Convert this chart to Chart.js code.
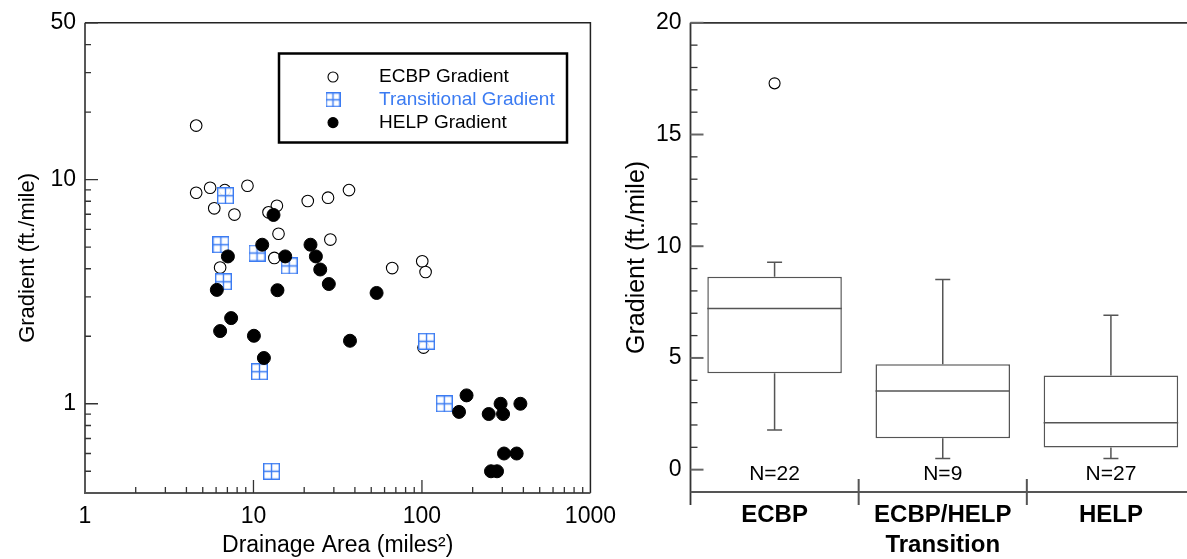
<!DOCTYPE html>
<html>
<head>
<meta charset="utf-8">
<script src="https://cdn.jsdelivr.net/npm/chart.js@4.4.1/dist/chart.umd.min.js"></script>
<style>
  html, body { margin: 0; padding: 0; background: #fff; overflow: hidden; }
  body { width: 1187px; height: 559px; position: relative; }
  #left { position: absolute; left: 0; top: 0; width: 626px; height: 559px; }
  #right { position: absolute; left: 600px; top: 0; width: 620px; height: 559px; }
</style>
</head>
<body>
<div id="left"><canvas id="scatter"></canvas></div>
<div id="right"><canvas id="box"></canvas></div>
<script>
// ---- scatter data (drainage area in miles^2, gradient in ft/mile) ----
const ecbpArea = [4.57, 4.57, 5.53, 6.76, 5.85, 7.71, 9.21, 13.77, 12.28, 14.08, 21.0, 27.7, 36.9, 28.6, 13.3, 6.34, 66.6, 100.4, 105.1, 102.2];
const ecbpGradient = [17.4, 8.73, 9.19, 8.97, 7.44, 6.98, 9.38, 7.64, 7.14, 5.73, 8.02, 8.30, 8.97, 5.40, 4.47, 4.05, 4.03, 4.32, 3.87, 1.78];

const transArea = [6.82, 6.40, 6.63, 10.5, 16.3, 10.85, 106.5, 135.7, 12.8];
const transGradient = [8.47, 5.12, 3.50, 4.70, 4.12, 1.39, 1.90, 1.00, 0.50];

const helpArea = [13.15, 11.27, 7.05, 15.43, 21.8, 23.47, 24.9, 28.0, 6.06, 13.88, 53.8, 7.37, 6.34, 10.06, 11.53, 37.4, 184, 166, 249, 293, 303, 384, 307, 365, 257, 279];
const helpGradient = [6.95, 5.12, 4.54, 4.54, 5.12, 4.54, 3.97, 3.42, 3.22, 3.21, 3.12, 2.41, 2.11, 2.01, 1.60, 1.91, 1.09, 0.92, 0.90, 1.00, 0.90, 1.00, 0.60, 0.60, 0.50, 0.50];

const areaTicks = [1, 10, 100, 1000];
const gradientTicks = [1, 10, 50];

// ---- box plot data ----
const groupLabels = [['ECBP'], ['ECBP/HELP', 'Transition'], ['HELP']];
const whiskerLow = [1.78, 0.50, 0.50];
const q1 = [4.32, 1.41, 0.99];
const median = [7.21, 3.52, 2.10];
const q3 = [8.63, 4.72, 4.21];
const whiskerHigh = [9.28, 8.51, 6.91];
const outliers = [17.29, null, null];
const counts = [22, 9, 27];
const boxTicks = [0, 5, 10, 15, 20];

const FONT = "'Liberation Sans', Arial, Helvetica, sans-serif";
const BLUE = '#3b7bf2';
Chart.defaults.font.family = FONT;
Chart.defaults.color = '#000';

function makeSquare(size, color) {
  const c = document.createElement('canvas');
  c.width = size; c.height = size;
  const g = c.getContext('2d');
  g.fillStyle = 'rgba(255,255,255,0.9)';
  g.fillRect(0, 0, size, size);
  g.strokeStyle = color;
  g.lineWidth = 1.4;
  g.strokeRect(0.7, 0.7, size - 1.4, size - 1.4);
  g.beginPath();
  g.moveTo(size / 2, 1); g.lineTo(size / 2, size - 1);
  g.moveTo(1, size / 2); g.lineTo(size - 1, size / 2);
  g.stroke();
  return c;
}
const squareMark = makeSquare(17, BLUE);
const squareLegend = makeSquare(15, BLUE);

function pts(xs, ys) { return xs.map((x, i) => ({ x: x, y: ys[i] })); }

// frame + inward ticks for the log/log plot
const logFrame = {
  id: 'logFrame',
  afterDraw(chart) {
    const { ctx, chartArea: a, scales: { x, y } } = chart;
    ctx.save();
    ctx.strokeStyle = '#222';
    ctx.lineWidth = 1.5;
    ctx.beginPath();
    ctx.moveTo(a.left, a.top); ctx.lineTo(a.right, a.top); ctx.lineTo(a.right, a.bottom);
    ctx.moveTo(a.left, a.top); ctx.lineTo(a.left, a.bottom);
    ctx.stroke();
    ctx.strokeStyle = '#555';
    ctx.lineWidth = 2;
    ctx.beginPath(); ctx.moveTo(a.left - 1, a.bottom); ctx.lineTo(a.right, a.bottom); ctx.stroke();

    ctx.strokeStyle = '#333';
    ctx.lineWidth = 1.3;
    ctx.beginPath();
    [1, 10, 100].forEach(d => {
      for (let k = 1; k <= 10; k++) {
        const v = k * d;
        if (v <= 1 || v >= 1000) continue;
        const px = x.getPixelForValue(v);
        const len = (k === 10 || k === 1) ? 13 : 6;
        ctx.moveTo(px, a.bottom); ctx.lineTo(px, a.bottom - len);
      }
    });
    [0.1, 1, 10].forEach(d => {
      for (let k = 1; k <= 10; k++) {
        const v = +(k * d).toFixed(3);
        if (v < 0.45 || v > 50) continue;
        const py = y.getPixelForValue(v);
        const len = (v === 1 || v === 10 || v === 50) ? 13 : 6;
        ctx.moveTo(a.left, py); ctx.lineTo(a.left + len, py);
      }
    });
    ctx.stroke();
    ctx.restore();
  }
};

const legendBox = {
  id: 'legendBox',
  afterDraw(chart) {
    const ctx = chart.ctx;
    ctx.save();
    ctx.lineWidth = 2.5;
    ctx.strokeStyle = '#000';
    ctx.strokeRect(279, 53.5, 288, 89);
    const colors = ['#000', BLUE, '#000'];
    chart.data.datasets.forEach((ds, i) => {
      const cy = 77 + i * 22.8;
      const cx = 333;
      if (i === 1) {
        ctx.drawImage(squareLegend, cx - 7.5, cy - 7.5);
      } else {
        ctx.beginPath();
        ctx.arc(cx, cy, 5, 0, Math.PI * 2);
        ctx.fillStyle = i === 0 ? '#fff' : '#000';
        ctx.fill();
        ctx.lineWidth = 1.1;
        ctx.strokeStyle = '#000';
        ctx.stroke();
      }
      ctx.fillStyle = colors[i];
      ctx.font = '19px ' + FONT;
      ctx.textBaseline = 'middle';
      ctx.textAlign = 'left';
      ctx.fillText(ds.label, 379, cy);
    });
    ctx.restore();
  }
};

new Chart(document.getElementById('scatter'), {
  type: 'scatter',
  data: {
    datasets: [
      { label: 'ECBP Gradient', data: pts(ecbpArea, ecbpGradient), pointStyle: 'circle',
        pointRadius: 5.8, borderColor: '#000', borderWidth: 1.1, backgroundColor: '#fff', order: 3 },
      { label: 'Transitional Gradient', data: pts(transArea, transGradient), pointStyle: squareMark,
        pointRadius: 8, order: 2 },
      { label: 'HELP Gradient', data: pts(helpArea, helpGradient), pointStyle: 'circle',
        pointRadius: 6.5, borderColor: '#000', borderWidth: 1, backgroundColor: '#000', order: 1 }
    ]
  },
  options: {
    responsive: true,
    maintainAspectRatio: false,
    animation: false,
    layout: { padding: { top: 20, right: 24, left: 0, bottom: 0 } },
    plugins: { legend: { display: false }, tooltip: { enabled: false } },
    scales: {
      x: {
        type: 'logarithmic', min: 1, max: 1000,
        afterBuildTicks: s => { s.ticks = areaTicks.map(v => ({ value: v })); },
        afterFit: s => { s.height = 66; },
        grid: { display: false, drawTicks: false },
        border: { display: false },
        ticks: { font: { size: 23 }, color: '#000', padding: 10, maxRotation: 0, autoSkip: false,
                 callback: v => String(v) },
        title: { display: true, text: 'Drainage Area (miles\u00B2)', font: { size: 23 }, color: '#000',
                 padding: { top: 0, bottom: 0 } }
      },
      y: {
        type: 'logarithmic', min: 0.4, max: 50,
        afterBuildTicks: s => { s.ticks = gradientTicks.map(v => ({ value: v })); },
        afterFit: s => { s.width = 85; },
        grid: { display: false, drawTicks: false },
        border: { display: false },
        ticks: { font: { size: 23 }, color: '#000', padding: 9, autoSkip: false, callback: v => String(v) },
        title: { display: true, text: 'Gradient (ft./mile)', font: { size: 22 }, color: '#000',
                 padding: { top: 15, bottom: 0 } }
      }
    }
  },
  plugins: [logFrame, legendBox]
});

// whiskers, medians, axes and counts for the box plot
const boxExtras = {
  id: 'boxExtras',
  beforeDatasetsDraw(chart) {
    const { ctx, scales: { x, y } } = chart;
    ctx.save();
    ctx.strokeStyle = '#555';
    ctx.lineWidth = 1.5;
    ctx.beginPath();
    groupLabels.forEach((_, i) => {
      const cx = x.getPixelForValue(i);
      ctx.moveTo(cx, y.getPixelForValue(q3[i])); ctx.lineTo(cx, y.getPixelForValue(whiskerHigh[i]));
      ctx.moveTo(cx - 7.5, y.getPixelForValue(whiskerHigh[i])); ctx.lineTo(cx + 7.5, y.getPixelForValue(whiskerHigh[i]));
      ctx.moveTo(cx, y.getPixelForValue(q1[i])); ctx.lineTo(cx, y.getPixelForValue(whiskerLow[i]));
      ctx.moveTo(cx - 7.5, y.getPixelForValue(whiskerLow[i])); ctx.lineTo(cx + 7.5, y.getPixelForValue(whiskerLow[i]));
    });
    ctx.stroke();
    ctx.restore();
  },
  afterDatasetsDraw(chart) {
    const { ctx, scales: { x, y } } = chart;
    const meta = chart.getDatasetMeta(0);
    ctx.save();
    ctx.strokeStyle = '#555';
    ctx.lineWidth = 1.5;
    ctx.beginPath();
    meta.data.forEach((bar, i) => {
      const py = y.getPixelForValue(median[i]);
      ctx.moveTo(bar.x - bar.width / 2, py); ctx.lineTo(bar.x + bar.width / 2, py);
    });
    ctx.stroke();
    ctx.fillStyle = '#000';
    ctx.font = '21px ' + FONT;
    ctx.textAlign = 'center';
    ctx.textBaseline = 'middle';
    counts.forEach((n, i) => ctx.fillText('N=' + n, x.getPixelForValue(i), 474));
    ctx.restore();
  },
  afterDraw(chart) {
    const { ctx, chartArea: a, scales: { x, y }, width } = chart;
    ctx.save();
    ctx.strokeStyle = '#333';
    ctx.lineWidth = 1.8;
    ctx.beginPath();
    ctx.moveTo(a.left, a.top); ctx.lineTo(width, a.top);
    ctx.moveTo(a.left, a.top); ctx.lineTo(a.left, a.bottom + 13);
    ctx.stroke();
    ctx.strokeStyle = '#555';
    ctx.lineWidth = 2;
    ctx.beginPath();
    ctx.moveTo(a.left, a.bottom); ctx.lineTo(width, a.bottom);
    for (let i = 0; i < groupLabels.length - 1; i++) {
      const bx = (x.getPixelForValue(i) + x.getPixelForValue(i + 1)) / 2;
      ctx.moveTo(bx, a.bottom - 13); ctx.lineTo(bx, a.bottom + 13);
    }
    ctx.stroke();
    for (let v = 0; v <= 20; v++) {
      const py = y.getPixelForValue(v);
      const major = v % 5 === 0;
      ctx.strokeStyle = major ? '#666' : '#333';
      ctx.lineWidth = major ? 2 : 1.3;
      ctx.beginPath();
      ctx.moveTo(a.left, py); ctx.lineTo(a.left + (major ? 13 : 7), py);
      ctx.stroke();
    }
    ctx.restore();
  }
};

new Chart(document.getElementById('box'), {
  type: 'bar',
  data: {
    labels: groupLabels,
    datasets: [
      { type: 'bar', data: q1.map((v, i) => [v, q3[i]]), backgroundColor: '#fff', borderColor: '#555',
        borderWidth: 1.5, borderSkipped: false, barPercentage: 0.8, categoryPercentage: 1, order: 2 },
      { type: 'line', data: outliers, showLine: false, pointRadius: 5.5, pointBorderColor: '#000',
        pointBackgroundColor: '#fff', pointBorderWidth: 1.1, order: 1 }
    ]
  },
  options: {
    responsive: true,
    maintainAspectRatio: false,
    animation: false,
    layout: { padding: { top: 20, right: 25, left: 0, bottom: 0 } },
    plugins: { legend: { display: false }, tooltip: { enabled: false } },
    scales: {
      x: {
        afterFit: s => { s.height = 67; },
        grid: { display: false, drawTicks: false },
        border: { display: false },
        ticks: { font: { size: 24, weight: 'bold', lineHeight: 1.25 }, color: '#000', padding: 8, maxRotation: 0 }
      },
      y: {
        min: -1, max: 20,
        afterBuildTicks: s => { s.ticks = boxTicks.map(v => ({ value: v })); },
        afterFit: s => { s.width = 90.5; },
        grid: { display: false, drawTicks: false },
        border: { display: false },
        ticks: { font: { size: 23 }, color: '#000', padding: 9 },
        title: { display: true, text: 'Gradient (ft./mile)', font: { size: 25 }, color: '#000',
                 padding: { top: 22, bottom: 0 } }
      }
    }
  },
  plugins: [boxExtras]
});
</script>
</body>
</html>
